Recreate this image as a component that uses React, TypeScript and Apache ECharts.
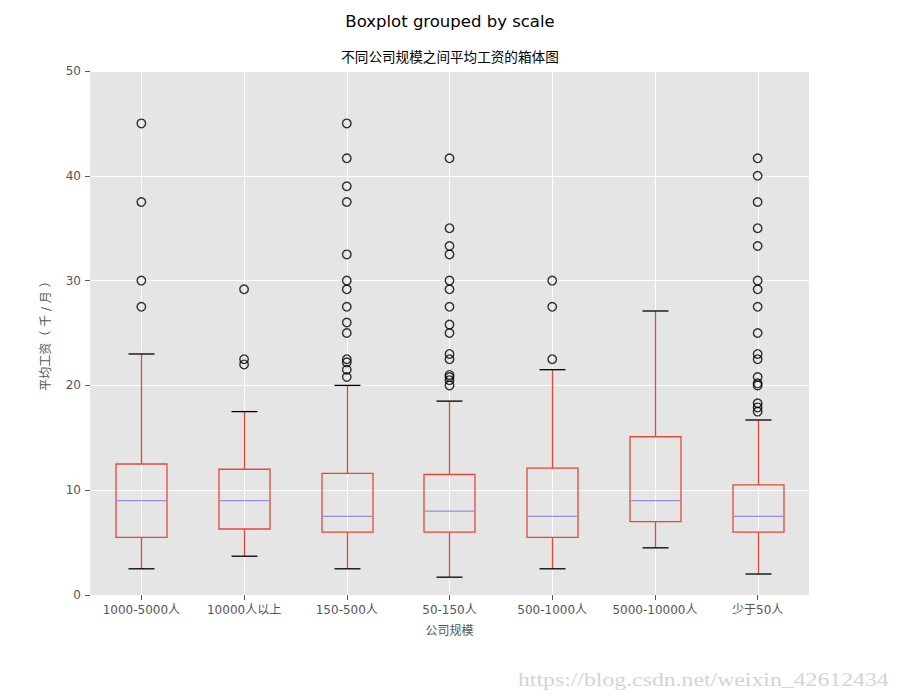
import React, { useEffect, useRef } from "react";
import * as echarts from "echarts";

const categories = ["1000-5000人", "10000人以上", "150-500人", "50-150人", "500-1000人", "5000-10000人", "少于50人"];
const whiskerLow = [2.5, 3.7, 2.5, 1.7, 2.5, 4.5, 2.0];
const q1 = [5.5, 6.3, 6.0, 6.0, 5.5, 7.0, 6.0];
const medians = [9.0, 9.0, 7.5, 8.0, 7.5, 9.0, 7.5];
const q3 = [12.5, 12.0, 11.6, 11.5, 12.1, 15.1, 10.5];
const whiskerHigh = [23.0, 17.5, 20.0, 18.5, 21.5, 27.1, 16.7];
const outliers: number[][] = [
  [45, 37.5, 30, 27.5],
  [29.17, 22.5, 22.0],
  [45, 41.67, 39, 37.5, 32.5, 30, 29.17, 27.5, 26, 25, 22.5, 22.2, 21.5, 20.8],
  [41.67, 35, 33.3, 32.5, 30, 29.17, 27.5, 25.8, 25, 23, 22.5, 21, 20.8, 20.5, 20],
  [30, 27.5, 22.5],
  [],
  [41.67, 40, 37.5, 35, 33.3, 30, 29.17, 27.5, 25, 23, 22.5, 20.8, 20.2, 20, 18.3, 17.9, 17.5],
];
const yTicks = { min: 0, max: 50, interval: 10 };

const BOX_COLOR = "#E24A33";
const MEDIAN_COLOR = "#988ED5";
const FONT = "'DejaVu Sans', 'Noto Sans CJK SC', sans-serif";

export default function App() {
  const ref = useRef<HTMLDivElement>(null);
  useEffect(() => {
    if (!ref.current) return;
    const chart = echarts.init(ref.current, undefined, { renderer: "svg" });
    const boxData = categories.map((_, i) => [i, whiskerLow[i], q1[i], medians[i], q3[i], whiskerHigh[i]]);
    const outlierData: number[][] = [];
    outliers.forEach((list, i) => list.forEach((v) => outlierData.push([i, v])));

    chart.setOption({
      animation: false,
      backgroundColor: "#ffffff",
      title: [
        {
          text: "Boxplot grouped by scale",
          left: "center",
          top: 8,
          textStyle: { fontFamily: FONT, fontSize: 16.5, fontWeight: "normal", color: "#000" },
        },
        {
          text: "不同公司规模之间平均工资的箱体图",
          left: "center",
          top: 45,
          textStyle: { fontFamily: FONT, fontSize: 13.6, fontWeight: "normal", color: "#000" },
        },
      ],
      grid: {
        left: 90,
        right: 91,
        top: 71,
        bottom: 105,
        show: true,
        backgroundColor: "#E5E5E5",
        borderWidth: 0,
      },
      xAxis: {
        type: "category",
        data: categories,
        boundaryGap: true,
        name: "公司规模",
        nameLocation: "middle",
        nameGap: 30,
        nameTextStyle: { fontFamily: FONT, fontSize: 12, color: "#555" },
        axisLine: { show: false },
        axisTick: { show: true, interval: 0, alignWithLabel: true, length: 5, lineStyle: { color: "#555" } },
        axisLabel: { interval: 0, fontFamily: FONT, fontSize: 12, color: "#555", margin: 9 },
        splitLine: { show: false },
      },
      yAxis: {
        type: "value",
        min: yTicks.min,
        max: yTicks.max,
        interval: yTicks.interval,
        name: "平均工资（ 千 / 月 ）",
        nameLocation: "middle",
        nameGap: 38,
        nameTextStyle: { fontFamily: FONT, fontSize: 12, color: "#555" },
        axisLine: { show: false },
        axisTick: { show: true, length: 5, lineStyle: { color: "#555" } },
        axisLabel: { fontFamily: FONT, fontSize: 12, color: "#555", margin: 9 },
        splitLine: { show: true, lineStyle: { color: "#ffffff", width: 1 } },
      },
      series: [
        {
          type: "custom",
          data: boxData,
          encode: { x: 0, y: [1, 2, 3, 4, 5] },
          renderItem: (params: any, api: any) => {
            const idx = api.value(0);
            const pLow = api.coord([idx, api.value(1)]);
            const pQ1 = api.coord([idx, api.value(2)]);
            const pMed = api.coord([idx, api.value(3)]);
            const pQ3 = api.coord([idx, api.value(4)]);
            const pHigh = api.coord([idx, api.value(5)]);
            const cs = params.coordSys;
            const x = Math.round(pMed[0]) + 0.5;
            const bw = 51;
            const cw = 26;
            return {
              type: "group",
              children: [
                {
                  type: "line",
                  shape: { x1: x, y1: cs.y, x2: x, y2: cs.y + cs.height },
                  style: { stroke: "#ffffff", lineWidth: 1 },
                },
                {
                  type: "line",
                  shape: { x1: x, y1: pQ1[1], x2: x, y2: pLow[1] },
                  style: { stroke: BOX_COLOR, lineWidth: 1.3 },
                },
                {
                  type: "line",
                  shape: { x1: x, y1: pQ3[1], x2: x, y2: pHigh[1] },
                  style: { stroke: BOX_COLOR, lineWidth: 1.3 },
                },
                {
                  type: "rect",
                  shape: { x: x - bw / 2, y: pQ3[1], width: bw, height: pQ1[1] - pQ3[1] },
                  style: { fill: "none", stroke: BOX_COLOR, lineWidth: 1.3 },
                },
                {
                  type: "line",
                  shape: { x1: x - bw / 2, y1: pMed[1], x2: x + bw / 2, y2: pMed[1] },
                  style: { stroke: MEDIAN_COLOR, lineWidth: 1.3 },
                },
                {
                  type: "line",
                  shape: { x1: x - cw / 2, y1: pLow[1], x2: x + cw / 2, y2: pLow[1] },
                  style: { stroke: "#000000", lineWidth: 1.3 },
                },
                {
                  type: "line",
                  shape: { x1: x - cw / 2, y1: pHigh[1], x2: x + cw / 2, y2: pHigh[1] },
                  style: { stroke: "#000000", lineWidth: 1.3 },
                },
              ],
            };
          },
          z: 2,
        },
        {
          type: "scatter",
          data: outlierData,
          symbol: "circle",
          symbolSize: 8.5,
          itemStyle: { color: "rgba(0,0,0,0)", borderColor: "#000000", borderWidth: 1.4 },
          z: 3,
        },
      ],
      graphic: [
        {
          type: "text",
          x: 518,
          y: 680,
          scaleX: 1.25,
          style: {
            text: "https://blog.csdn.net/weixin_42612434",
            fontFamily: "'Liberation Serif', 'DejaVu Serif', serif",
            fontSize: 19,
            fill: "#d4d4d4",
            textAlign: "left",
            textVerticalAlign: "middle",
          },
        },
      ],
    });
    return () => chart.dispose();
  }, []);
  return <div ref={ref} style={{ width: 900, height: 700, position: "absolute", left: 0, top: 0 }} />;
}
